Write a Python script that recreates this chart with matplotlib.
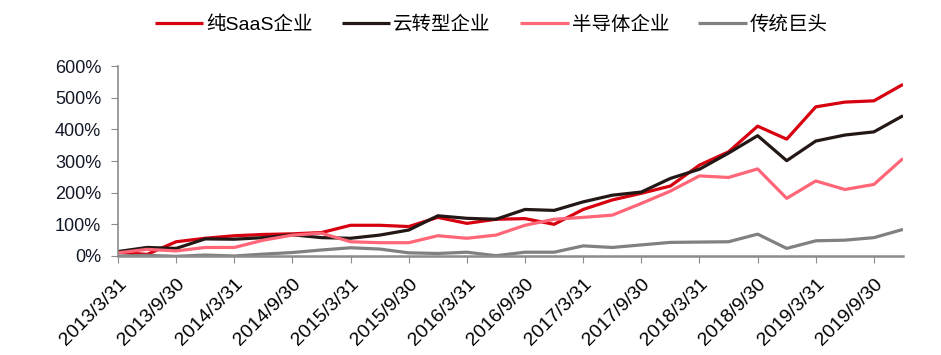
import numpy as np
import matplotlib
matplotlib.use("Agg")
import matplotlib.pyplot as plt

plt.rcParams['font.family'] = ['Liberation Sans', 'Noto Sans CJK SC', 'DejaVu Sans']

# quarterly points, 2013Q1 .. 2019Q4
saas = [12, 5, 45, 56, 64, 68, 70, 74, 97, 97, 93, 122, 103, 116,
        118, 100, 147, 177, 198, 221, 287, 329, 410, 369, 471, 486, 490, 542]
cloud = [14, 27, 24, 54, 53, 58, 67, 58, 56, 66, 82, 127, 119, 116,
         147, 144, 171, 192, 202, 245, 274, 325, 380, 301, 363, 382, 392, 443]
semi = [10, 21, 16, 27, 27, 50, 66, 72, 45, 42, 42, 64, 56, 66,
        97, 116, 122, 129, 166, 205, 253, 248, 275, 182, 237, 210, 226, 308]
legacy = [0, 2, -1, 3, 0, 6, 11, 19, 26, 22, 10, 8, 12, 1,
          12, 12, 32, 27, 35, 43, 44, 45, 69, 24, 48, 50, 58, 84]

tick_labels = ['2013/3/31', '2013/9/30', '2014/3/31', '2014/9/30', '2015/3/31',
               '2015/9/30', '2016/3/31', '2016/9/30', '2017/3/31', '2017/9/30',
               '2018/3/31', '2018/9/30', '2019/3/31', '2019/9/30']

names = ['纯SaaS企业', '云转型企业', '半导体企业', '传统巨头']
colors = ['#D7000F', '#231815', '#FF6677', '#808080']

x = np.arange(len(saas))

fig = plt.figure(figsize=(9.41, 3.55), dpi=100)
ax = fig.add_axes([118/941, 1 - 256/355, (903 - 118)/941, (256 - 66)/355])

for y, name, c in zip([saas, cloud, semi, legacy], names, colors):
    ax.plot(x, np.array(y) / 100, color=c, lw=2.3, label=name, solid_capstyle='butt')

ax.set_xlim(0, 27)
ax.set_ylim(0, 6)
ax.set_yticks(np.arange(0, 7))
ax.set_yticklabels([f'{v*100}%' for v in range(7)], fontsize=13, color='#111827')
ax.set_xticks(x[::2])
ax.set_xticklabels(tick_labels, rotation=45, ha='right', rotation_mode='anchor',
                   fontsize=14)

for s in ['top', 'right']:
    ax.spines[s].set_visible(False)
ax.spines['left'].set_color('#8c8c8c')
ax.spines['left'].set_linewidth(1.2)
ax.spines['bottom'].set_color('#8c8c8c')
ax.spines['bottom'].set_linewidth(1.8)
ax.tick_params(axis='y', length=5, color='#8c8c8c', pad=7)
ax.tick_params(axis='x', length=5, color='#8c8c8c', pad=9)

fig.legend(loc='center', bbox_to_anchor=(0.522, 0.93), ncol=4, frameon=False,
           fontsize=14, handlelength=2.5, handletextpad=0.15, columnspacing=1.5)

fig.savefig('out.png', dpi=100)
